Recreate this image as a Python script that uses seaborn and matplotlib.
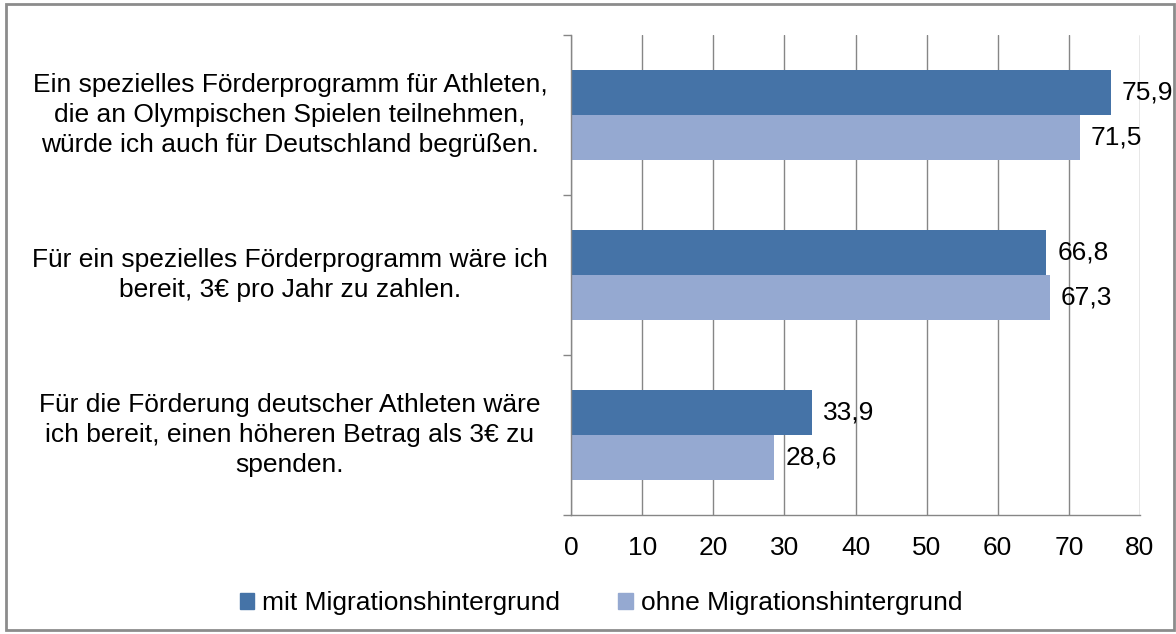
import numpy as np
import pandas as pd
import matplotlib
matplotlib.use("Agg")
import matplotlib.pyplot as plt
import seaborn as sns
from matplotlib.patches import Rectangle

# data
categories = [
    "Ein spezielles Förderprogramm für Athleten,\ndie an Olympischen Spielen teilnehmen,\nwürde ich auch für Deutschland begrüßen.",
    "Für ein spezielles Förderprogramm wäre ich\nbereit, 3€ pro Jahr zu zahlen.",
    "Für die Förderung deutscher Athleten wäre\nich bereit, einen höheren Betrag als 3€ zu\nspenden.",
]
groups = ["mit Migrationshintergrund", "ohne Migrationshintergrund"]
mit_values = [75.9, 66.8, 33.9]
ohne_values = [71.5, 67.3, 28.6]
x_ticks = [0, 10, 20, 30, 40, 50, 60, 70, 80]

colors = ["#4573A7", "#95A9D1"]
FS = 19

df = pd.DataFrame({
    "cat": categories * 2,
    "group": [groups[0]] * 3 + [groups[1]] * 3,
    "value": mit_values + ohne_values,
})

sns.set_style("white")
plt.rcParams["font.family"] = ["Liberation Sans", "DejaVu Sans"]
plt.rcParams["text.color"] = "black"
plt.rcParams["xtick.color"] = "black"

fig = plt.figure(figsize=(11.76, 6.34), dpi=100)
ax = fig.add_axes([571 / 1176, 1 - 515 / 634, (1140 - 571) / 1176, (515 - 35) / 634])

sns.barplot(data=df, x="value", y="cat", hue="group", order=categories,
            hue_order=groups, palette=colors, orient="h", width=0.5625,
            gap=0, linewidth=0, saturation=1, ax=ax, legend=False)

ax.set_xlim(0, 80)
ax.set_xticks(x_ticks)
ax.set_xticklabels([str(t) for t in x_ticks], fontsize=FS)
ax.tick_params(axis="x", length=7, width=1, color="#868686", labelcolor="black", pad=8)
ax.xaxis.grid(True, color="#868686", linewidth=1)
ax.set_axisbelow(True)

# category boundaries as ticks on the y axis, labels drawn as text
ax.set_yticks([-0.5, 0.5, 1.5, 2.5])
ax.set_yticklabels([])
ax.tick_params(axis="y", length=6, width=1, color="#868686", left=True)
ax.set_ylim(2.5, -0.5)
for i, c in enumerate(categories):
    ax.text(-0.494, i, c, transform=ax.get_yaxis_transform(), ha="center",
            va="center", multialignment="center", fontsize=FS, linespacing=1.3)

ax.set_xlabel("")
ax.set_ylabel("")
for s in ["top", "right"]:
    ax.spines[s].set_visible(False)
for s in ["left", "bottom"]:
    ax.spines[s].set_color("#868686")
    ax.spines[s].set_linewidth(1)

for cont, vals in zip(ax.containers, [mit_values, ohne_values]):
    ax.bar_label(cont, labels=[f"{v:.1f}".replace(".", ",") for v in vals],
                 padding=8, fontsize=FS)

handles = [Rectangle((0, 0), 1, 1, color=c) for c in colors]
fig.legend(handles, groups, loc="center", bbox_to_anchor=(0.511, 1 - 603 / 634),
           ncol=2, frameon=False, fontsize=FS, handlelength=0.55,
           handleheight=0.55, handletextpad=0.3, columnspacing=2.2)

# grey frame around the chart
fig.patches.append(Rectangle((0.005, 0.006), 0.993, 0.988, transform=fig.transFigure,
                             fill=False, edgecolor="#8c8c8c", linewidth=2))

fig.savefig("out.png", dpi=100)
